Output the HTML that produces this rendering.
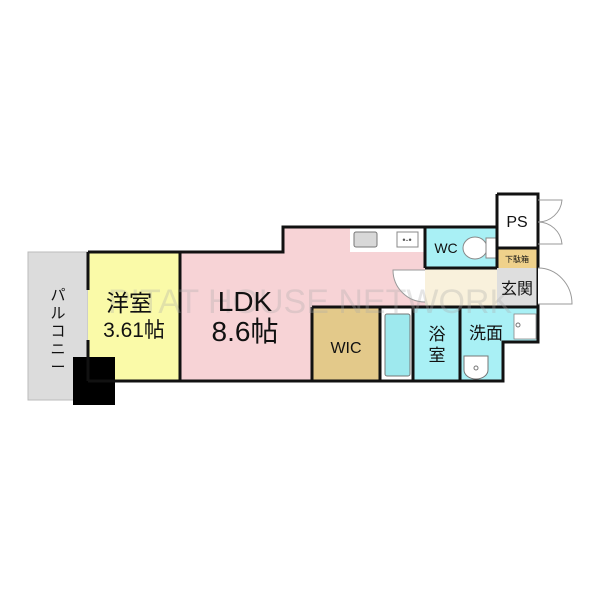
<!DOCTYPE html>
<html><head><meta charset="utf-8"><style>
html,body{margin:0;padding:0;background:#fff;width:600px;height:600px;overflow:hidden}
text{font-family:"Liberation Sans","Noto Sans CJK JP",sans-serif}
</style></head><body>
<svg width="600" height="600" viewBox="0 0 600 600" xmlns="http://www.w3.org/2000/svg">
<rect x="28" y="252" width="60" height="148" fill="#dcdcdc" stroke="#bbb" stroke-width="1"/>
<rect x="88" y="252" width="92" height="129" fill="#fafaa8"/>
<polygon points="180,252 283,252 283,227 425,227 425,270 425,307 312,307 312,381 180,381" fill="#f7d3d6"/>
<rect x="350" y="228" width="75" height="24" fill="#fff"/>
<rect x="354" y="232" width="23" height="15" rx="2" fill="#d8d8d8" stroke="#777"/>
<rect x="397" y="232" width="21" height="15" fill="#fff" stroke="#888"/>
<text x="407" y="243" font-size="9" text-anchor="middle" fill="#555">•-•</text>
<rect x="312" y="307" width="68" height="74" fill="#e3c98a"/>
<rect x="380" y="307" width="33" height="74" fill="#fff"/>
<rect x="385" y="314" width="25" height="62" rx="2" fill="#9ee9ee" stroke="#777"/>
<rect x="413" y="307" width="47" height="74" fill="#a9f0f5"/>
<polygon points="460,307 538,307 538,342 503,342 503,381 460,381" fill="#a9f0f5"/>
<rect x="514" y="314" width="22" height="25" fill="#fff" stroke="#888" stroke-width="0.8"/>
<circle cx="518" cy="325" r="2" fill="none" stroke="#777"/>
<path d="M464,356 L488,356 L488,370 A12,9 0 0 1 464,370 Z" fill="#fff" stroke="#777"/>
<circle cx="476" cy="368" r="2" fill="none" stroke="#777"/>
<rect x="425" y="228" width="72" height="40" fill="#a9f0f5"/>
<ellipse cx="475" cy="248" rx="12" ry="11" fill="#fff" stroke="#888"/>
<rect x="486" y="238" width="10" height="20" fill="#fff" stroke="#888"/>
<rect x="425" y="268" width="72" height="39" fill="#f9f1dc"/>
<rect x="497" y="194" width="41" height="54" fill="#fff"/>
<rect x="497" y="248" width="41" height="20" fill="#efd18b"/>
<rect x="497" y="268" width="41" height="39" fill="#dedede"/>
<rect x="73" y="357" width="42" height="48" fill="#000"/>
<g stroke="#111" stroke-width="3" fill="none">
<polyline points="88,252 283,252 283,227 425,227 497,227"/>
<polyline points="497,194 538,194 538,342 503,342 503,381 180,381 88,381"/>
<line x1="88" y1="252" x2="88" y2="290"/>
<line x1="88" y1="340" x2="88" y2="381"/>
<line x1="180" y1="252" x2="180" y2="381"/>
<line x1="497" y1="194" x2="497" y2="268"/>
<line x1="497" y1="248" x2="538" y2="248"/>
<line x1="425" y1="227" x2="425" y2="268"/>
<line x1="425" y1="268" x2="497" y2="268"/>
<line x1="312" y1="307" x2="538" y2="307"/>
<line x1="312" y1="307" x2="312" y2="381"/>
<line x1="380" y1="307" x2="380" y2="381"/>
<line x1="413" y1="307" x2="413" y2="381"/>
<line x1="460" y1="307" x2="460" y2="381"/>
</g>
<path d="M425,270 L393,270 A32,32 0 0 0 425,302" fill="#fff" stroke="#999"/>
<path d="M538,268 A34,36 0 0 1 572,304 L538,304" fill="#fff" stroke="#999"/>
<path d="M538,200 L562,200 A24,24 0 0 1 538,222 M538,244 L562,244 A24,24 0 0 0 538,222" fill="none" stroke="#999"/>
<text x="310" y="313" font-size="34" fill="#aaa" opacity="0.3" text-anchor="middle">PITAT HOUSE NETWORK</text>
<text x="129" y="311" font-size="23" text-anchor="middle" fill="#111">洋室</text>
<text x="134" y="337" font-size="21" text-anchor="middle" fill="#111">3.61帖</text>
<text x="245" y="311" font-size="28" text-anchor="middle" fill="#111">LDK</text>
<text x="245" y="341" font-size="28" text-anchor="middle" fill="#111">8.6帖</text>
<text x="346" y="353" font-size="16" text-anchor="middle" fill="#111">WIC</text>
<text x="437" y="340" font-size="17" text-anchor="middle" fill="#111">浴</text>
<text x="437" y="361" font-size="17" text-anchor="middle" fill="#111">室</text>
<text x="486" y="339" font-size="17" text-anchor="middle" fill="#111">洗面</text>
<text x="446" y="253" font-size="14" text-anchor="middle" fill="#111">WC</text>
<text x="517" y="227" font-size="16" text-anchor="middle" fill="#111">PS</text>
<text x="517" y="262" font-size="8" text-anchor="middle" fill="#111">下駄箱</text>
<text x="517" y="294" font-size="16" text-anchor="middle" fill="#111">玄関</text>
<g font-size="15" fill="#111" text-anchor="middle">
<text x="58" y="300">パ</text><text x="58" y="318">ル</text><text x="58" y="336">コ</text><text x="58" y="354">ニ</text><text x="58" y="372">ー</text>
</g>
</svg>
</body></html>
